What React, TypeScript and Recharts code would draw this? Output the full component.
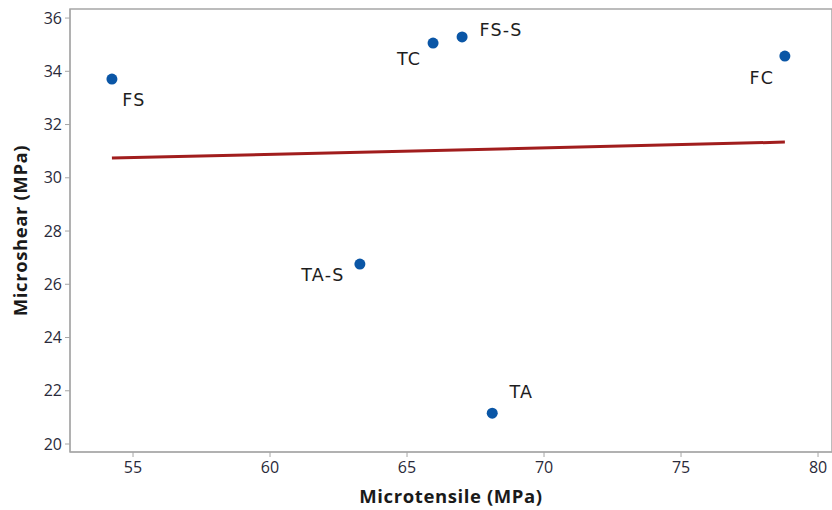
import {
  ScatterChart,
  Scatter,
  XAxis,
  YAxis,
  ReferenceArea,
} from "recharts";

const materials = ["FS", "TC", "FS-S", "FC", "TA-S", "TA"];
const microtensile = [54.23, 65.95, 67.01, 78.79, 63.28, 68.11];
const microshear = [33.71, 35.06, 35.29, 34.57, 26.76, 21.16];

// fitted regression line, read at both ends
const fitTensile = [54.23, 78.79];
const fitShear = [30.74, 31.34];

const xTicks = [55, 60, 65, 70, 75, 80];
const yTicks = [20, 22, 24, 26, 28, 30, 32, 34, 36];

const points = materials.map((name, i) => ({
  name,
  x: microtensile[i],
  y: microshear[i],
}));
const fit = fitTensile.map((x, i) => ({ x, y: fitShear[i] }));

// where each label sits relative to its dot
const labelOffset: Record<string, [number, number]> = {
  FS: [22, 21],
  TC: [-24, 16],
  "FS-S": [39, -7],
  FC: [-23, 22],
  "TA-S": [-37, 11],
  TA: [29, -21],
};

const FONT = "'Open Sans', 'Segoe UI', sans-serif";
const AXIS = "#A6A6A6";
const TICK = { fontSize: 16, fill: "#2A2A3A", fontFamily: FONT };
const TITLE = {
  fontSize: 18.5,
  fontWeight: 700,
  fill: "#1A1A1A",
  fontFamily: FONT,
  letterSpacing: 0.6,
};

function Dot(props: any) {
  const { cx, cy, payload } = props;
  const [dx, dy] = labelOffset[payload.name] ?? [0, 0];
  return (
    <g>
      <circle cx={cx} cy={cy} r={5.5} fill="#0A56A6" />
      <text
        x={cx + dx}
        y={cy + dy}
        textAnchor="middle"
        dominantBaseline="central"
        fontSize={17.5}
        letterSpacing={1.2}
        fontFamily="'DejaVu Sans', sans-serif"
        fill="#1E1E1E"
      >
        {payload.name}
      </text>
    </g>
  );
}

const NoDot = () => <g />;

export default function App() {
  return (
    <div style={{ width: 832, height: 510 }}>
      <style>{"body{margin:0}"}</style>
      <ScatterChart
        width={832}
        height={510}
        margin={{ top: 9, right: 0, bottom: 0, left: 0 }}
      >
        <ReferenceArea
          x1={52.7}
          x2={80.51}
          y1={19.7}
          y2={36.34}
          fill="none"
          stroke={AXIS}
          strokeWidth={1.5}
          ifOverflow="visible"
        />
        <XAxis
          type="number"
          dataKey="x"
          domain={[52.7, 80.51]}
          ticks={xTicks}
          allowDataOverflow
          height={58}
          tick={TICK}
          tickSize={5}
          tickMargin={5}
          stroke={AXIS}
          label={{
            value: "Microtensile (MPa)",
            position: "insideBottom",
            offset: 7,
            style: TITLE,
          }}
        />
        <YAxis
          type="number"
          dataKey="y"
          domain={[19.7, 36.34]}
          ticks={yTicks}
          allowDataOverflow
          width={70}
          tick={TICK}
          tickSize={5}
          tickMargin={3}
          stroke={AXIS}
          label={{
            value: "Microshear (MPa)",
            angle: -90,
            position: "insideLeft",
            offset: 20,
            style: { ...TITLE, textAnchor: "middle" },
          }}
        />
        <Scatter
          data={fit}
          line={{ stroke: "#A11D1D", strokeWidth: 3 }}
          shape={NoDot}
          isAnimationActive={false}
        />
        <Scatter data={points} shape={Dot} isAnimationActive={false} />
      </ScatterChart>
    </div>
  );
}
